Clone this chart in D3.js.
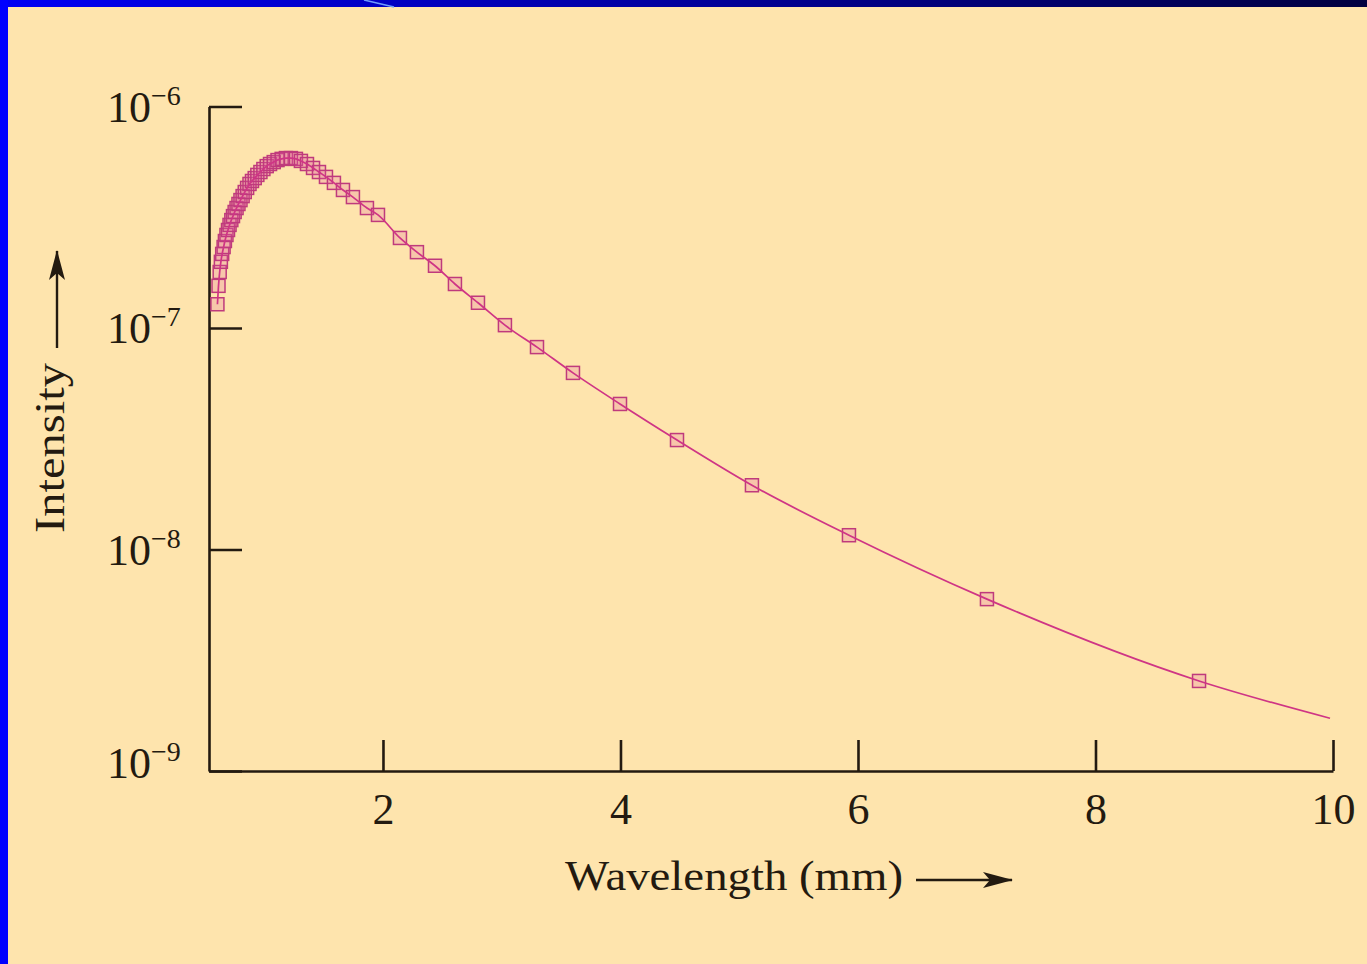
<!DOCTYPE html>
<html>
<head>
<meta charset="utf-8">
<script src="https://cdn.jsdelivr.net/npm/d3@7"></script>
<style>
  body { margin: 0; background: #fee4ad; }
  svg { display: block; }
</style>
</head>
<body>
<div id="chart"></div>
<script>
// measured points (wavelength in mm, intensity)
var wavelengths = [0.606, 0.615, 0.625, 0.635, 0.646, 0.658, 0.669, 0.682, 0.695, 0.708,
    0.723, 0.737, 0.751, 0.767, 0.783, 0.800, 0.818, 0.836, 0.856, 0.876,
    0.897, 0.920, 0.942, 0.968, 0.993, 1.021, 1.049, 1.080, 1.112, 1.147,
    1.183, 1.225, 1.267, 1.309, 1.360, 1.411, 1.461, 1.520, 1.587, 1.663,
    1.747, 1.865, 1.958, 2.143, 2.286, 2.438, 2.606, 2.800, 3.027, 3.297,
    3.600, 3.996, 4.476, 5.107, 5.924, 7.086, 8.872];
var intensities = [1.28e-7, 1.55e-7, 1.79e-7, 1.99e-7, 2.16e-7, 2.32e-7, 2.47e-7, 2.63e-7, 2.77e-7, 2.92e-7,
    3.07e-7, 3.20e-7, 3.34e-7, 3.48e-7, 3.63e-7, 3.78e-7, 3.94e-7, 4.11e-7, 4.29e-7, 4.47e-7,
    4.61e-7, 4.75e-7, 4.91e-7, 5.06e-7, 5.22e-7, 5.38e-7, 5.50e-7, 5.61e-7, 5.73e-7, 5.80e-7,
    5.85e-7, 5.85e-7, 5.80e-7, 5.68e-7, 5.50e-7, 5.28e-7, 5.06e-7, 4.81e-7, 4.52e-7, 4.20e-7,
    3.90e-7, 3.48e-7, 3.24e-7, 2.55e-7, 2.20e-7, 1.91e-7, 1.58e-7, 1.30e-7, 1.03e-7, 8.20e-8,
    6.27e-8, 4.54e-8, 3.12e-8, 1.95e-8, 1.16e-8, 5.97e-9, 2.55e-9];

// the fitted curve runs on past the last point to the end of the axis
var curveEndWl = 9.975;
var curveEndI = 1.73e-9;

var xTicks = [2, 4, 6, 8, 10];
var yTicks = [1e-9, 1e-8, 1e-7, 1e-6];
var yTickExps = ["\u22129", "\u22128", "\u22127", "\u22126"];

var W = 1367, H = 964;
var ink = "#231a10";
var serif = "'Liberation Serif', 'DejaVu Serif', serif";

var svg = d3.select("#chart")
    .append("svg")
    .attr("width", W)
    .attr("height", H);

// slide background + blue frame
svg.append("rect").attr("width", W).attr("height", H).attr("fill", "#fee4ad");

var defs = svg.append("defs");
var grad = defs.append("linearGradient").attr("id", "topband");
grad.append("stop").attr("offset", "0%").attr("stop-color", "#0000f5");
grad.append("stop").attr("offset", "40%").attr("stop-color", "#0000b0");
grad.append("stop").attr("offset", "100%").attr("stop-color", "#000040");

var arrow = defs.append("marker")
    .attr("id", "arrowhead")
    .attr("viewBox", "0 0 30 16")
    .attr("refX", 29)
    .attr("refY", 8)
    .attr("markerUnits", "userSpaceOnUse")
    .attr("markerWidth", 30)
    .attr("markerHeight", 16)
    .attr("orient", "auto");
arrow.append("path").attr("d", "M0,0 L30,8 L0,16 L7,8 Z").attr("fill", ink);

svg.append("rect").attr("x", 0).attr("y", 0).attr("width", W).attr("height", 7).attr("fill", "url(#topband)");
svg.append("line")
    .attr("x1", 364).attr("y1", 0).attr("x2", 394).attr("y2", 7)
    .attr("stroke", "#6f9cff").attr("stroke-width", 1.5);
svg.append("rect").attr("x", 0).attr("y", 0).attr("width", 8).attr("height", H).attr("fill", "#0000ff");

// scales
var x = d3.scaleLinear()
    .domain([0.535, 10])
    .range([209, 1333]);

var y = d3.scaleLog()
    .domain([1e-9, 1e-6])
    .range([771, 106.5]);

// X axis
var xAxis = svg.append("g")
    .attr("transform", "translate(0,771)")
    .call(d3.axisBottom(x)
        .tickValues(xTicks)
        .tickSizeInner(-31)
        .tickSizeOuter(0)
        .tickPadding(22)
        .tickFormat(d3.format("d")));

// Y axis
var yAxis = svg.append("g")
    .attr("transform", "translate(209,0)")
    .call(d3.axisLeft(y)
        .tickValues(yTicks)
        .tickSizeInner(-33)
        .tickSizeOuter(0)
        .tickFormat(""));

svg.selectAll(".domain, .tick line")
    .attr("stroke", ink)
    .attr("stroke-width", 2.6);

xAxis.selectAll(".tick text")
    .attr("fill", ink)
    .attr("font-family", serif)
    .attr("font-size", 44);

// power-of-ten labels
var yLabels = svg.append("g")
    .selectAll("text")
    .data(yTicks)
    .enter()
    .append("text")
    .attr("x", 107)
    .attr("y", function (d, i) { return y(d) + (i === 0 ? 7 : 15); })
    .attr("fill", ink)
    .attr("font-family", serif)
    .attr("font-size", 44);

yLabels.append("tspan").text("10");
yLabels.append("tspan")
    .attr("dy", -17)
    .attr("font-size", 28)
    .text(function (d, i) { return yTickExps[i]; });

// axis titles with arrows
svg.append("text")
    .attr("x", 565)
    .attr("y", 890)
    .attr("fill", ink)
    .attr("font-family", serif)
    .attr("font-size", 42)
    .attr("textLength", 338)
    .attr("lengthAdjust", "spacingAndGlyphs")
    .text("Wavelength (mm)");

svg.append("line")
    .attr("x1", 916).attr("y1", 880)
    .attr("x2", 1012).attr("y2", 880)
    .attr("stroke", ink)
    .attr("stroke-width", 2.4)
    .attr("marker-end", "url(#arrowhead)");

svg.append("text")
    .attr("transform", "translate(64,533) rotate(-90)")
    .attr("fill", ink)
    .attr("font-family", serif)
    .attr("font-size", 42)
    .attr("textLength", 170)
    .attr("lengthAdjust", "spacingAndGlyphs")
    .text("Intensity");

svg.append("line")
    .attr("x1", 57).attr("y1", 348)
    .attr("x2", 57).attr("y2", 251)
    .attr("stroke", ink)
    .attr("stroke-width", 2.4)
    .attr("marker-end", "url(#arrowhead)");

// data
var points = wavelengths.map(function (w, i) { return { wl: w, val: intensities[i] }; });
var curvePoints = points.concat([{ wl: curveEndWl, val: curveEndI }]);

var sq = 13;
svg.append("g")
    .selectAll("rect")
    .data(points)
    .enter()
    .append("rect")
    .attr("x", function (d) { return x(d.wl) - sq / 2; })
    .attr("y", function (d) { return y(d.val) - sq / 2; })
    .attr("width", sq)
    .attr("height", sq)
    .attr("fill", "rgba(225,90,160,0.22)")
    .attr("stroke", "#bf3a7c")
    .attr("stroke-width", 1.5);

svg.append("path")
    .datum(curvePoints)
    .attr("fill", "none")
    .attr("stroke", "#cf3585")
    .attr("stroke-width", 1.7)
    .attr("d", d3.line()
        .x(function (d) { return x(d.wl); })
        .y(function (d) { return y(d.val); })
        .curve(d3.curveMonotoneX));
</script>
</body>
</html>
